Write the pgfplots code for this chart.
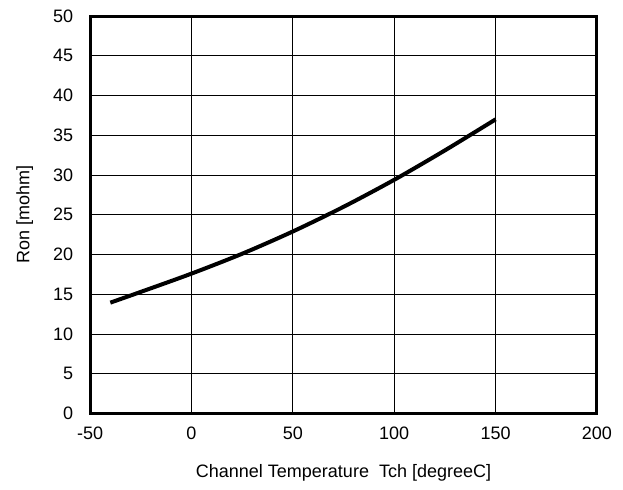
\documentclass[border=0pt]{standalone}
\usepackage{pgfplots}
\pgfplotsset{compat=1.18}
\usepackage{fontspec}
\setmainfont{Liberation Sans}
\begin{document}
\fontsize{13.5}{16}\selectfont
\begin{tikzpicture}
\begin{axis}[
  scale only axis,
  width=380pt, height=298pt,
  xmin=-50, xmax=200, ymin=0, ymax=50,
  xtick={-50,0,50,100,150,200},
  ytick={0,5,10,15,20,25,30,35,40,45,50},
  grid=major,
  major grid style={black, line width=0.75pt},
  axis line style={black, line width=2.25pt},
  tick style={draw=none},
  /pgf/number format/assume math mode=true,
  ticklabel style={font=\fontsize{13.5}{16}\selectfont},
  yticklabel style={xshift=-8pt},
  xticklabel style={yshift=-5pt},
  xlabel={Channel Temperature\ \ Tch [degreeC]},
  ylabel={Ron [mohm]},
  label style={font=\fontsize{13.5}{16}\selectfont},
  xlabel style={at={(axis description cs:0.5,-0.15)}, anchor=center},
  ylabel style={at={(axis description cs:-0.129,0.5)}, anchor=center},
]
\addplot[black, line width=3pt, smooth] coordinates {
(-40,13.95) (-25,15.3) (0,17.6) (25,20.1) (50,22.9) (75,26.0) (100,29.4) (125,33.1) (150,37.0)
};
\end{axis}
\pgfresetboundingbox
\path ([shift={(-67.5pt,-57pt)}]current axis.south west) rectangle ([shift={(19.5pt,12pt)}]current axis.north east);
\end{tikzpicture}
\end{document}
